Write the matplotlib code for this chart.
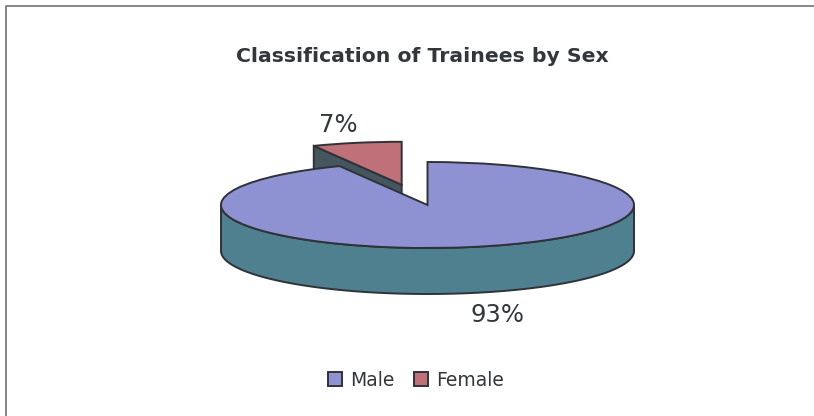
import numpy as np
import matplotlib
matplotlib.use('Agg')
import matplotlib.pyplot as plt

# Data
labels = ['Male', 'Female']
shares = [93, 7]
pct_labels = ['93%', '7%']

W, H = 814, 416
CX, CY = 427.5, 205   # centre of the pie top, pixels
RX, RY = 206.5, 43
DEPTH = 46 / RY       # wall height in unit-circle terms
# pull-out of the female slice in unit-circle terms
OX, OY = -0.125, 0.47

MALE_TOP = '#8e92d2'
MALE_WALL = '#4f8090'
FEMALE_TOP = '#bf7079'
FEMALE_WALL = '#46565f'
EDGE = '#2f3338'
TEXT = '#33363a'

plt.rcParams['font.family'] = ['DejaVu Sans']

fig = plt.figure(figsize=(W / 100, H / 100), dpi=100, facecolor='white')

# frame line, only top and left show in the scan
bg = fig.add_axes([0, 0, 1, 1])
bg.set_xlim(0, W)
bg.set_ylim(H, 0)
bg.axis('off')
bg.plot([6, 6, 814], [H, 6, 6], color='#7d7d7d', lw=1.3)

# squashed axes: unit circle maps to the pie-top ellipse
ax = fig.add_axes([(CX - RX) / W, 1 - (CY + RY) / H, 2 * RX / W, 2 * RY / H])
ax.patch.set_alpha(0)

# female slice wall first, it sits behind the male top
female_angle = np.deg2rad(90 + shares[1] / sum(shares) * 360)
rim_x, rim_y = OX + np.cos(female_angle), OY + np.sin(female_angle)
ax.fill([OX, rim_x, rim_x, OX], [OY, rim_y, rim_y - DEPTH, OY - DEPTH],
        facecolor=FEMALE_WALL, edgecolor=EDGE, lw=1.4, zorder=1)

wedges, _ = ax.pie(shares, startangle=90, counterclock=False, radius=1,
                   colors=[MALE_TOP, FEMALE_TOP],
                   wedgeprops={'edgecolor': EDGE, 'linewidth': 1.4})
wedges[1].set_center((OX, OY))
wedges[1].set_zorder(2)
wedges[0].set_zorder(4)

# male wall: front half of the cylinder
t = np.linspace(np.pi, 2 * np.pi, 200)
wall_x = np.r_[np.cos(t), np.cos(t[::-1])]
wall_y = np.r_[np.sin(t) - DEPTH, np.sin(t[::-1])]
ax.fill(wall_x, wall_y, facecolor=MALE_WALL, edgecolor=EDGE, lw=1.4, zorder=3)

ax.set_aspect('auto')
ax.set_xlim(-1, 1)
ax.set_ylim(-1, 1)
ax.axis('off')
for art in ax.patches:
    art.set_clip_on(False)

bg.text(422.5, 57, 'Classification of Trainees by Sex', ha='center', va='center',
        fontsize=14.7, fontweight='bold', color=TEXT)
bg.text(338, 125, pct_labels[1], ha='center', va='center', fontsize=17.5, color=TEXT)
bg.text(497, 315, pct_labels[0], ha='center', va='center', fontsize=17.5, color=TEXT)

fig.legend(wedges, labels, loc='center', bbox_to_anchor=(416 / W, 1 - 380 / H),
           ncol=2, frameon=False, fontsize=13.5, labelcolor=TEXT,
           handlelength=0.75, handleheight=0.75, handletextpad=0.45, columnspacing=1.0)

fig.savefig('out.png', dpi=100)
